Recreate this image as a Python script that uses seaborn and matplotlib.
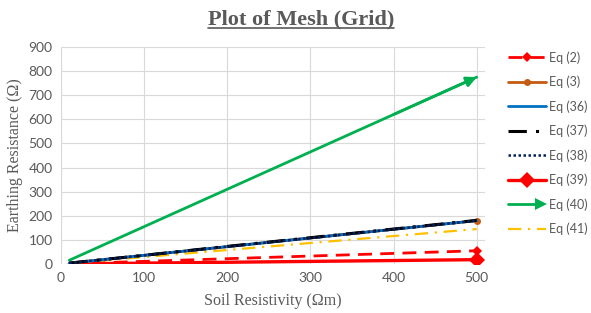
import numpy as np
import pandas as pd
import seaborn as sns
import matplotlib.pyplot as plt
from matplotlib.lines import Line2D
from matplotlib.legend_handler import HandlerLine2D

# soil resistivity (ohm m)
rho = [10, 100, 200, 300, 400, 500]

# earthing resistance (ohm) for each equation
eq2 = [1.1, 11, 22, 33, 44, 55]
eq3 = [3.6, 36, 72, 108, 144, 180]
eq36 = [3.6, 36, 72, 108, 144, 180]
eq37 = [3.7, 36, 73, 109, 145, 181]
eq38 = [3.6, 36, 72, 108, 144, 180]
eq39 = [0.4, 3.6, 7.2, 10.8, 14.4, 18]
eq40 = [15.5, 155, 310, 465, 620, 775]
eq41 = [2.9, 29, 58, 87, 116, 145]

labels = ["Eq (2)", "Eq (3)", "Eq (36)", "Eq (37)", "Eq (38)", "Eq (39)", "Eq (40)", "Eq (41)"]

grey = "#595959"

sns.set_style("white")
plt.rcParams["font.family"] = ["Lato", "DejaVu Sans"]

fig = plt.figure(figsize=(5.91, 3.13), dpi=100)
ax = fig.add_axes([61 / 591, (313 - 264) / 313, (485 - 61) / 591, (264 - 47) / 313])

# style for each series: (data, colour, linestyle, lw, marker, markersize)
styles = {
    "Eq (39)": (eq39, "#FF0000", "-", 2.4, "D", 8),
    "Eq (2)": (eq2, "#FF0000", (0, (5, 3)), 2.0, "D", 5),
    "Eq (41)": (eq41, "#FFC000", (0, (6, 3, 1, 3)), 1.6, None, 0),
    "Eq (40)": (eq40, "#00B050", "-", 2.0, None, 0),
    "Eq (3)": (eq3, "#C55A11", "-", 2.0, "o", 5),
    "Eq (36)": (eq36, "#0070C0", "-", 2.0, None, 0),
    "Eq (37)": (eq37, "#000000", (0, (6, 3, 1, 3)), 2.2, None, 0),
    "Eq (38)": (eq38, "#002060", (0, (1, 1)), 1.8, None, 0),
}

for name, (vals, col, ls, lw, mk, ms) in styles.items():
    df = pd.DataFrame({"rho": rho, "R": vals})
    sns.lineplot(data=df, x="rho", y="R", ax=ax, color=col, linestyle=ls,
                 linewidth=lw, marker=mk, markersize=ms, markevery=[len(rho) - 1],
                 markeredgewidth=0, label=name, legend=False)

# arrow head on Eq (40)
ax.annotate("", xy=(rho[-1], eq40[-1]), xytext=(rho[-2], eq40[-2]),
            arrowprops=dict(arrowstyle="-|>", color="#00B050", lw=2, mutation_scale=15,
                            shrinkA=0, shrinkB=0))

ax.set_xlim(0, 510)
ax.set_ylim(0, 900)
ax.set_xticks(range(0, 501, 100))
ax.set_yticks(range(0, 901, 100))
ax.grid(True, color="#D9D9D9", lw=0.8)
for s in ax.spines.values():
    s.set_visible(False)
ax.tick_params(colors=grey, labelsize=10, length=0, pad=6)

ax.set_xlabel("Soil Resistivity (\u03a9m)", family="Liberation Serif", fontsize=11.5,
              color=grey, labelpad=6)
ax.set_ylabel("Earthing Resistance (\u03a9)", family="Liberation Serif", fontsize=11.5,
              color=grey, labelpad=4)

title = fig.text(0.509, 0.938, "Plot of Mesh (Grid)", ha="center", va="center",
                 family="Liberation Serif", fontsize=16, fontweight="bold", color=grey)


class EndMarkerHandler(HandlerLine2D):
    def get_xdata(self, legend, xdescent, ydescent, width, height, fontsize):
        xdata = np.array([-xdescent, -xdescent + width])
        return xdata, xdata[-1:]


class ArrowHandler(HandlerLine2D):
    def create_artists(self, legend, orig_handle, xdescent, ydescent, width, height,
                       fontsize, trans):
        y = height / 2 - ydescent
        line = Line2D([-xdescent, -xdescent + width - 6], [y, y], color="#00B050", lw=2,
                      transform=trans)
        head = Line2D([-xdescent + width - 4], [y], marker=">", markersize=9,
                      color="#00B050", markeredgewidth=0, transform=trans)
        return [line, head]


lines = {l.get_label(): l for l in ax.get_lines()}
handles = [lines[n] for n in labels]
hmap = {h: EndMarkerHandler() for h in handles}
hmap[lines["Eq (40)"]] = ArrowHandler()
fig.legend(handles, labels, handler_map=hmap, loc="upper left",
           bbox_to_anchor=(508 / 591, 1 - 51 / 313), frameon=False,
           borderaxespad=0, borderpad=0,
           fontsize=9.0, handlelength=3.05, handletextpad=0.22, labelspacing=0.96,
           labelcolor=grey)

# underline the title
fig.canvas.draw()
bb = title.get_window_extent().transformed(fig.transFigure.inverted())
fig.add_artist(Line2D([bb.x0, bb.x1], [bb.y0 + 0.004, bb.y0 + 0.004], color=grey, lw=1.2))

fig.savefig("out.png", dpi=100)
